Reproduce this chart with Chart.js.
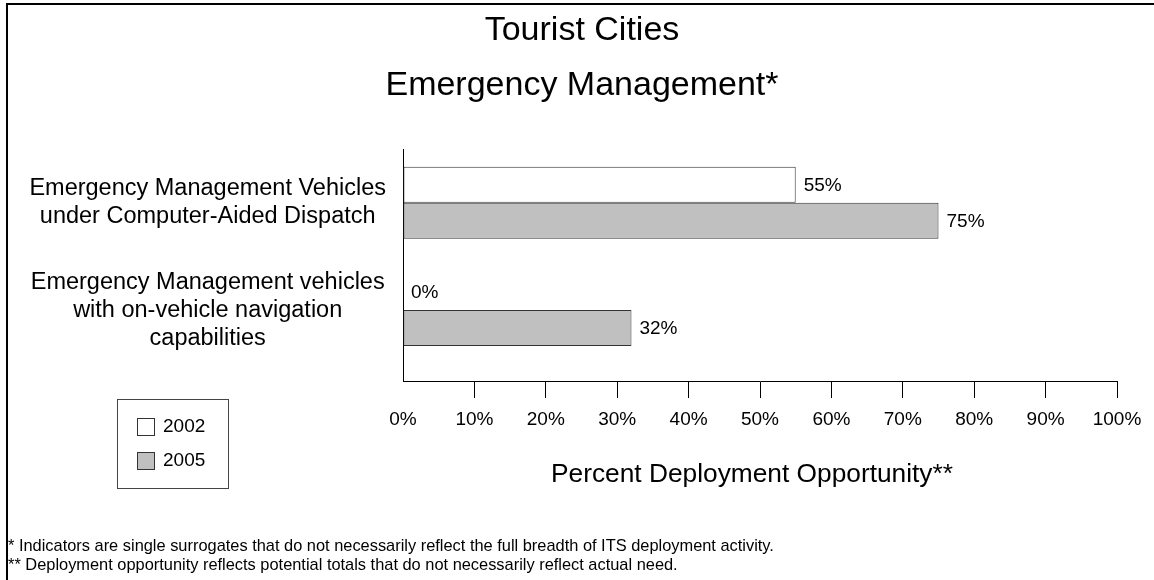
<!DOCTYPE html>
<html>
<head>
<meta charset="utf-8">
<script src="https://cdn.jsdelivr.net/npm/chart.js@4.4.1/dist/chart.umd.min.js"></script>
<style>
  html, body { margin: 0; padding: 0; background: #fff; }
</style>
</head>
<body>
<canvas id="deployChart" width="1154" height="580"></canvas>
<script>
// chart data
const categories = [
  ["Emergency Management Vehicles", "under Computer-Aided Dispatch"],
  ["Emergency Management vehicles", "with on-vehicle navigation", "capabilities"]
];
const years = ["2002", "2005"];
const values2002 = [55, 0];
const values2005 = [75, 32];
const xTicks = [0, 10, 20, 30, 40, 50, 60, 70, 80, 90, 100];

const titleLines = ["Tourist Cities", "Emergency Management*"];
const axisTitle = "Percent Deployment Opportunity**";
const notes = [
  "* Indicators are single surrogates that do not necessarily reflect the full breadth of ITS deployment activity.",
  "** Deployment opportunity reflects potential totals that do not necessarily reflect actual need."
];

const FONT = "'Liberation Sans', Arial, sans-serif";
Chart.defaults.font.family = FONT;
Chart.defaults.color = "#000";

// category positions on the (linear) y axis
const catPos = categories.map((c, i) => i + 1);

function toPoints(vals) {
  return vals.map((v, i) => ({ x: v, y: catPos[i] }));
}

// percent labels at the end of each bar
const valueLabels = {
  id: "valueLabels",
  afterDatasetsDraw(chart) {
    const c = chart.ctx;
    c.save();
    c.font = "19px " + FONT;
    c.fillStyle = "#000";
    c.textAlign = "left";
    c.textBaseline = "middle";
    chart.data.datasets.forEach((ds, di) => {
      chart.getDatasetMeta(di).data.forEach((bar, i) => {
        c.fillText(ds.data[i].x + "%", bar.x + 8, bar.y + 1);
      });
    });
    c.restore();
  }
};

// frame, titles, legend box and footnotes
const decor = {
  id: "decor",
  afterDraw(chart) {
    const c = chart.ctx;
    const ds = chart.data.datasets;
    c.save();

    c.strokeStyle = "#000";
    c.lineWidth = 2;
    c.beginPath();
    c.moveTo(7, 580);
    c.lineTo(7, 4);
    c.lineTo(1154, 4);
    c.stroke();

    c.fillStyle = "#000";
    c.textAlign = "center";
    c.textBaseline = "alphabetic";
    c.font = "34px " + FONT;
    c.fillText(titleLines[0], 582, 40);
    c.fillText(titleLines[1], 582, 95);

    c.font = "26.3px " + FONT;
    c.fillText(axisTitle, 752, 482);

    // legend
    c.lineWidth = 1;
    c.strokeStyle = "#444";
    c.strokeRect(117.5, 399.5, 111, 89);
    c.font = "19px " + FONT;
    c.textAlign = "left";
    c.textBaseline = "middle";
    ds.forEach((d, i) => {
      const top = 418 + i * 34;
      c.fillStyle = d.backgroundColor;
      c.fillRect(137, top, 17, 17);
      c.strokeStyle = "#333";
      c.strokeRect(137.5, top + 0.5, 17, 17);
      c.fillStyle = "#000";
      c.fillText(d.label, 163, top + 9);
    });

    c.font = "16.4px " + FONT;
    c.textBaseline = "alphabetic";
    c.fillText(notes[0], 8, 551);
    c.fillText(notes[1], 8, 570);

    c.restore();
  }
};

const ctx = document.getElementById("deployChart").getContext("2d");

const chart = new Chart(ctx, {
  type: "bar",
  data: {
    datasets: [
      {
        label: years[0],
        data: toPoints(values2002),
        backgroundColor: "#ffffff",
        borderColor: "#333333",
        borderWidth: 1,
        borderSkipped: false
      },
      {
        label: years[1],
        data: toPoints(values2005),
        backgroundColor: "#c0c0c0",
        borderColor: "#333333",
        borderWidth: 1,
        borderSkipped: false
      }
    ]
  },
  options: {
    indexAxis: "y",
    responsive: false,
    animation: false,
    categoryPercentage: 0.67,
    barPercentage: 1,
    layout: { padding: { top: 149, bottom: 139, left: 0, right: 37 } },
    plugins: {
      legend: { display: false },
      tooltip: { enabled: false }
    },
    scales: {
      x: {
        type: "linear",
        position: "bottom",
        min: 0,
        max: 100,
        afterBuildTicks: s => { s.ticks = xTicks.map(v => ({ value: v })); },
        afterFit: s => { s.height = 60; },
        ticks: {
          callback: v => v + "%",
          font: { size: 19 },
          padding: 10,
          maxRotation: 0,
          autoSkip: false
        },
        grid: {
          drawOnChartArea: false,
          drawTicks: true,
          tickLength: 17,
          color: c => (c.tick && c.tick.value === 0 ? "rgba(0,0,0,0)" : "#000")
        },
        border: { display: true, color: "#000", width: 1 }
      },
      y: {
        type: "linear",
        reverse: true,
        offset: false,
        min: 0.5,
        max: 2.66,
        afterBuildTicks: s => { s.ticks = catPos.map(v => ({ value: v })); },
        afterFit: s => { s.width = 403; },
        ticks: {
          callback: v => categories[v - 1] || "",
          font: { size: 23.5, lineHeight: "28px" },
          crossAlign: "center",
          padding: 17,
          autoSkip: false
        },
        grid: { display: false, drawTicks: false, offset: false },
        border: { display: true, color: "#000", width: 1 }
      }
    }
  },
  plugins: [valueLabels, decor]
});
</script>
</body>
</html>
